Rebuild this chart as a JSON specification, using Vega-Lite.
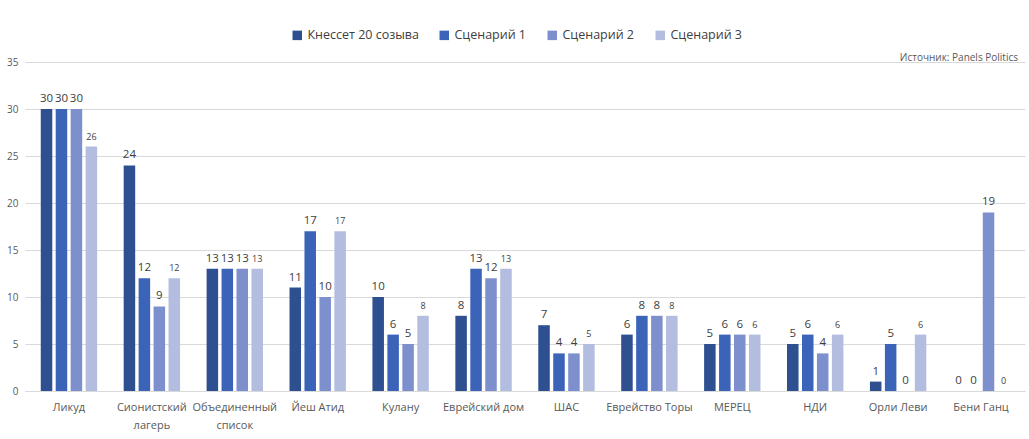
{
  "$schema": "https://vega.github.io/schema/vega-lite/v6.json",
  "width": 1000,
  "height": 329,
  "autosize": {"type": "none"},
  "padding": {"left": 25, "top": 62, "right": 4, "bottom": 48},
  "background": "white",
  "config": {
    "font": "Open Sans",
    "view": {"stroke": null}
  },
  "title": {
    "text": "Источник: Panels Politics",
    "anchor": "end",
    "fontSize": 10,
    "fontWeight": "normal",
    "color": "#595959",
    "offset": -34,
    "dx": -7
  },
  "data": {
    "values": [
      {"party": "Ликуд", "series": "Кнессет 20 созыва", "seats": 30},
      {"party": "Ликуд", "series": "Сценарий 1", "seats": 30},
      {"party": "Ликуд", "series": "Сценарий 2", "seats": 30},
      {"party": "Ликуд", "series": "Сценарий 3", "seats": 26},
      {"party": "Сионистский лагерь", "series": "Кнессет 20 созыва", "seats": 24},
      {"party": "Сионистский лагерь", "series": "Сценарий 1", "seats": 12},
      {"party": "Сионистский лагерь", "series": "Сценарий 2", "seats": 9},
      {"party": "Сионистский лагерь", "series": "Сценарий 3", "seats": 12},
      {"party": "Объединенный список", "series": "Кнессет 20 созыва", "seats": 13},
      {"party": "Объединенный список", "series": "Сценарий 1", "seats": 13},
      {"party": "Объединенный список", "series": "Сценарий 2", "seats": 13},
      {"party": "Объединенный список", "series": "Сценарий 3", "seats": 13},
      {"party": "Йеш Атид", "series": "Кнессет 20 созыва", "seats": 11},
      {"party": "Йеш Атид", "series": "Сценарий 1", "seats": 17},
      {"party": "Йеш Атид", "series": "Сценарий 2", "seats": 10},
      {"party": "Йеш Атид", "series": "Сценарий 3", "seats": 17},
      {"party": "Кулану", "series": "Кнессет 20 созыва", "seats": 10},
      {"party": "Кулану", "series": "Сценарий 1", "seats": 6},
      {"party": "Кулану", "series": "Сценарий 2", "seats": 5},
      {"party": "Кулану", "series": "Сценарий 3", "seats": 8},
      {"party": "Еврейский дом", "series": "Кнессет 20 созыва", "seats": 8},
      {"party": "Еврейский дом", "series": "Сценарий 1", "seats": 13},
      {"party": "Еврейский дом", "series": "Сценарий 2", "seats": 12},
      {"party": "Еврейский дом", "series": "Сценарий 3", "seats": 13},
      {"party": "ШАС", "series": "Кнессет 20 созыва", "seats": 7},
      {"party": "ШАС", "series": "Сценарий 1", "seats": 4},
      {"party": "ШАС", "series": "Сценарий 2", "seats": 4},
      {"party": "ШАС", "series": "Сценарий 3", "seats": 5},
      {"party": "Еврейство Торы", "series": "Кнессет 20 созыва", "seats": 6},
      {"party": "Еврейство Торы", "series": "Сценарий 1", "seats": 8},
      {"party": "Еврейство Торы", "series": "Сценарий 2", "seats": 8},
      {"party": "Еврейство Торы", "series": "Сценарий 3", "seats": 8},
      {"party": "МЕРЕЦ", "series": "Кнессет 20 созыва", "seats": 5},
      {"party": "МЕРЕЦ", "series": "Сценарий 1", "seats": 6},
      {"party": "МЕРЕЦ", "series": "Сценарий 2", "seats": 6},
      {"party": "МЕРЕЦ", "series": "Сценарий 3", "seats": 6},
      {"party": "НДИ", "series": "Кнессет 20 созыва", "seats": 5},
      {"party": "НДИ", "series": "Сценарий 1", "seats": 6},
      {"party": "НДИ", "series": "Сценарий 2", "seats": 4},
      {"party": "НДИ", "series": "Сценарий 3", "seats": 6},
      {"party": "Орли Леви", "series": "Кнессет 20 созыва", "seats": 1},
      {"party": "Орли Леви", "series": "Сценарий 1", "seats": 5},
      {"party": "Орли Леви", "series": "Сценарий 2", "seats": 0},
      {"party": "Орли Леви", "series": "Сценарий 3", "seats": 6},
      {"party": "Бени Ганц", "series": "Кнессет 20 созыва", "seats": 0},
      {"party": "Бени Ганц", "series": "Сценарий 1", "seats": 0},
      {"party": "Бени Ганц", "series": "Сценарий 2", "seats": 19},
      {"party": "Бени Ганц", "series": "Сценарий 3", "seats": 0}
    ]
  },
  "encoding": {
    "x": {
      "field": "party",
      "type": "nominal",
      "sort": null,
      "scale": {"paddingInner": 0.32, "paddingOuter": 0.19},
      "axis": {
        "title": null,
        "labelAngle": 0,
        "labelFontSize": 11,
        "labelColor": "#595959",
        "labelPadding": 10,
        "labelLineHeight": 18,
        "ticks": false,
        "domainColor": "#D9D9D9",
        "labelExpr": "datum.value == 'Сионистский лагерь' ? ['Сионистский', 'лагерь'] : datum.value == 'Объединенный список' ? ['Объединенный', 'список'] : datum.value"
      }
    },
    "xOffset": {
      "field": "series",
      "type": "nominal",
      "sort": null,
      "scale": {"paddingInner": 0.23, "paddingOuter": 0}
    },
    "y": {
      "field": "seats",
      "type": "quantitative",
      "scale": {"domain": [0, 35]},
      "axis": {
        "title": null,
        "values": [0, 5, 10, 15, 20, 25, 30, 35],
        "labelFontSize": 10,
        "labelColor": "#595959",
        "ticks": false,
        "domain": false,
        "gridColor": "#D9D9D9",
        "labelPadding": 7
      }
    }
  },
  "layer": [
    {
      "mark": {"type": "bar"},
      "encoding": {
        "color": {
          "field": "series",
          "type": "nominal",
          "sort": null,
          "scale": {
            "domain": ["Кнессет 20 созыва", "Сценарий 1", "Сценарий 2", "Сценарий 3"],
            "range": ["#2F5090", "#3B64B8", "#7D90CD", "#B2BDDF"]
          },
          "legend": {
            "title": null,
            "orient": "none",
            "direction": "horizontal",
            "legendX": 266,
            "legendY": -33,
            "symbolType": "square",
            "symbolSize": 90,
            "symbolStrokeWidth": 0,
            "labelFontSize": 12.5,
            "labelColor": "#404040",
            "columnPadding": 19,
            "labelOffset": 4
          }
        }
      }
    },
    {
      "mark": {"type": "text", "baseline": "bottom", "dy": -5, "color": "#404040"},
      "encoding": {
        "text": {"field": "seats", "type": "quantitative"},
        "size": {
          "condition": {"test": "datum.series === 'Сценарий 3'", "value": 9},
          "value": 11.5
        }
      }
    }
  ]
}
